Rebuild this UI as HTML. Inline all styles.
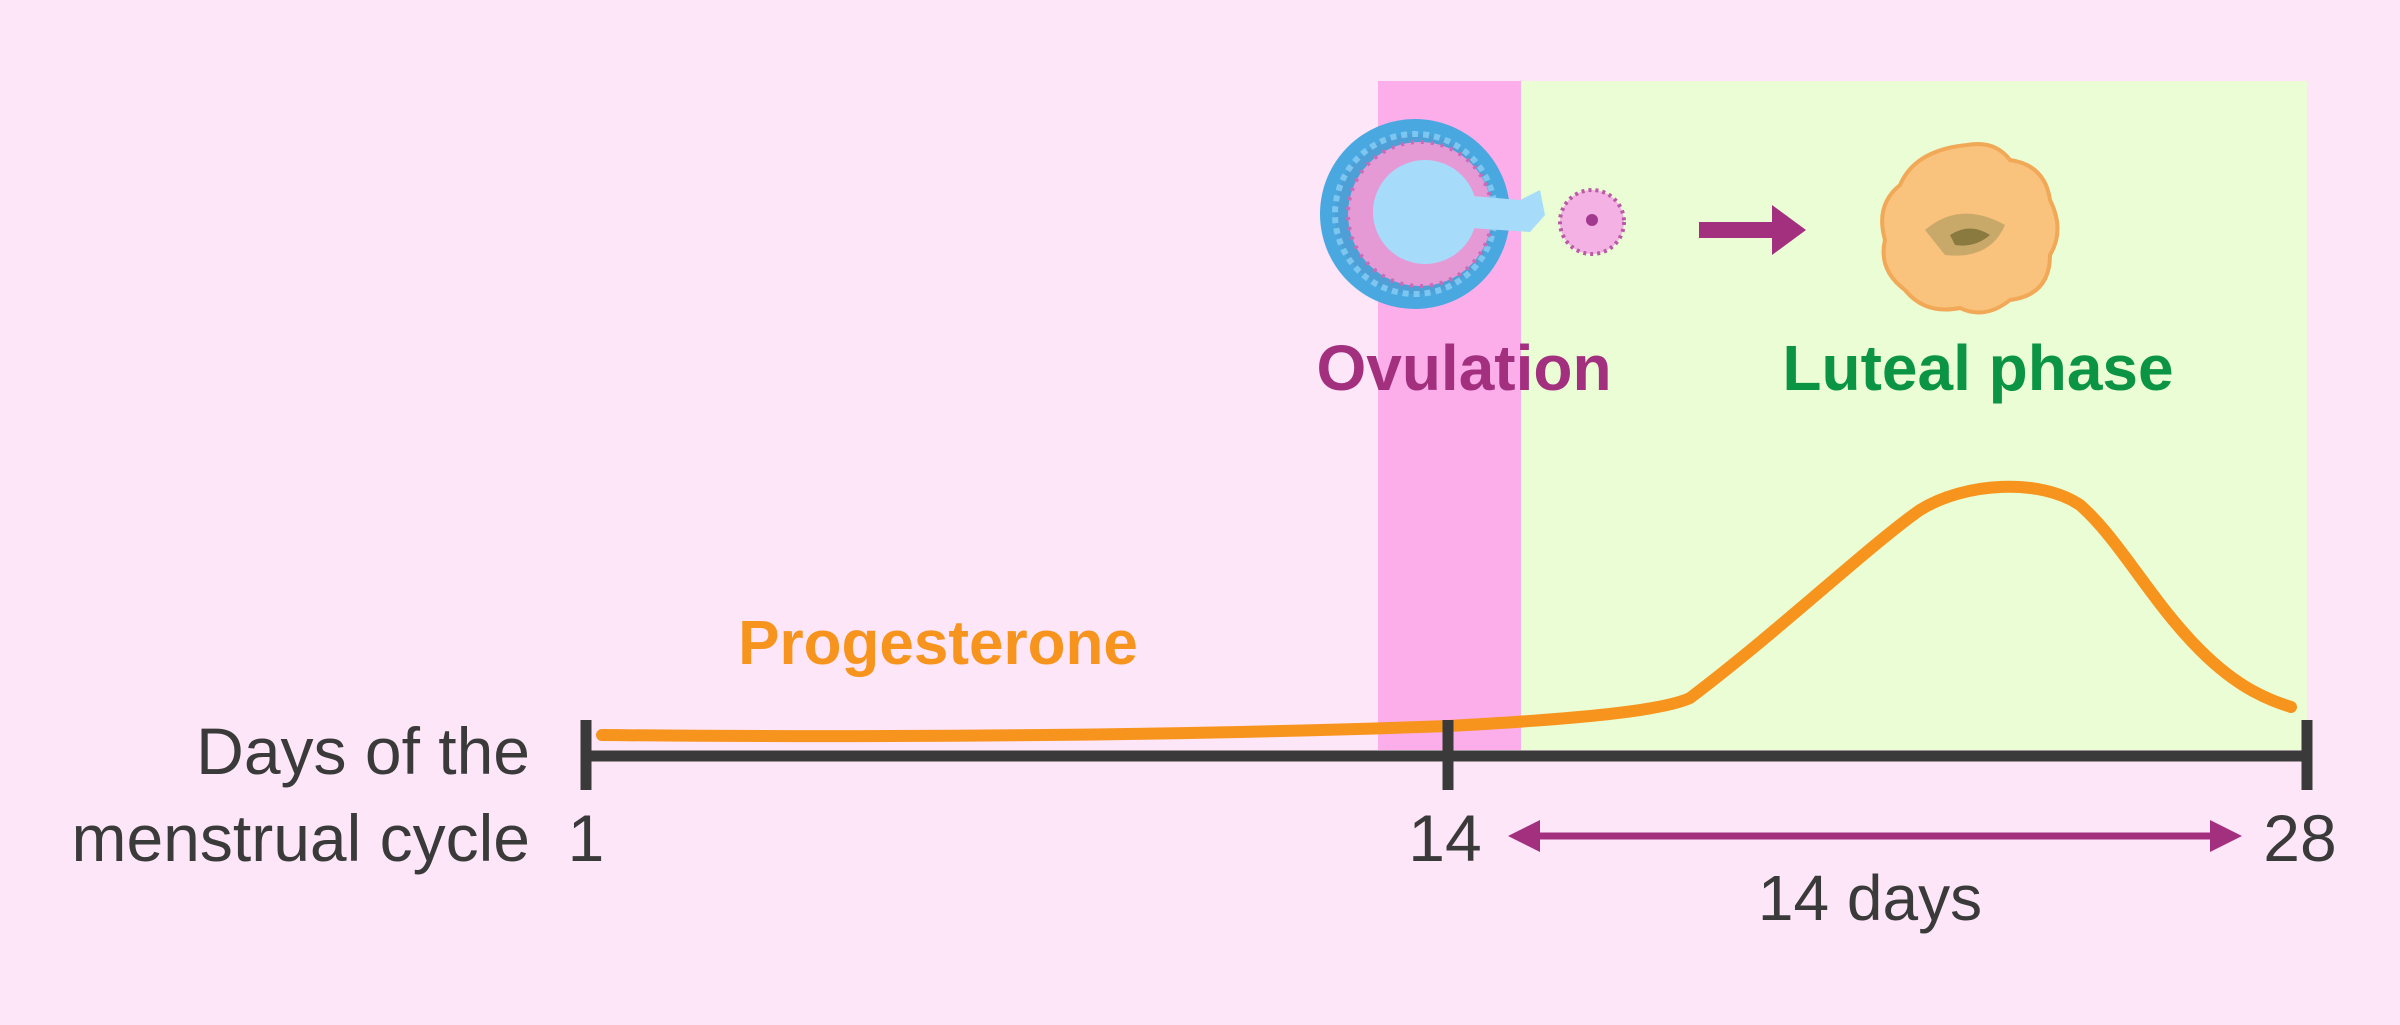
<!DOCTYPE html>
<html><head><meta charset="utf-8"><style>
html,body{margin:0;padding:0;}
body{width:2400px;height:1020px;background:#fde6f8;overflow:hidden;font-family:"Liberation Sans",sans-serif;}
</style></head><body>
<svg width="2400" height="1020" viewBox="0 0 2400 1020" xmlns="http://www.w3.org/2000/svg">
<rect x="0" y="0" width="2400" height="1020" fill="#fde6f8"/>
<rect x="1378" y="81" width="143" height="669" fill="#fcaeea"/>
<rect x="1521" y="81" width="786" height="669" fill="#eafdd5"/>

<g>
<circle cx="1415" cy="214" r="95" fill="#4aa8e0"/>
<circle cx="1415" cy="214" r="80" fill="#4d9fd6" stroke="#7dc6f0" stroke-width="6" stroke-dasharray="6 5"/>
<circle cx="1420" cy="214" r="72" fill="#e59ad5"/>
<circle cx="1420" cy="214" r="72" fill="none" stroke="#c96bb8" stroke-width="4" stroke-dasharray="3 7"/>
<circle cx="1425" cy="212" r="52" fill="#a6dcfa"/>
<path d="M1460 195 L1520 200 L1540 190 L1545 215 L1530 232 L1470 228 Z" fill="#a6dcfa"/>
<circle cx="1592" cy="222" r="32" fill="#f3b1e4" stroke="#b85aa6" stroke-width="4" stroke-dasharray="3 4"/>
<circle cx="1592" cy="220" r="6" fill="#a13a8f"/>
</g>
<rect x="1699" y="222" width="78" height="16" fill="#a2307f"/>
<polygon points="1772,205 1806,230 1772,255" fill="#a2307f"/>
<g>
<path d="M1967 145 Q1995 140 2010 160 Q2045 165 2050 200 Q2065 230 2050 255 Q2050 295 2010 300 Q1985 320 1960 308 Q1925 315 1905 290 Q1878 270 1885 240 Q1875 205 1900 185 Q1915 150 1967 145 Z" fill="#f9c27d" stroke="#f1a957" stroke-width="4"/>
<path d="M1925 230 Q1960 200 2005 225 Q1990 260 1945 255 Z" fill="#c9a96a"/>
<path d="M1950 235 Q1970 222 1990 235 Q1975 248 1955 245 Z" fill="#8a7a40"/>
</g>

<text x="1464" y="390" text-anchor="middle" font-size="64" font-weight="bold" fill="#a2307f">Ovulation</text>
<text x="1978" y="390" text-anchor="middle" font-size="64" font-weight="bold" fill="#0a9444">Luteal phase</text>
<text x="938" y="664" text-anchor="middle" font-size="62" font-weight="bold" fill="#f7941d">Progesterone</text>

<path d="M602 735 C900 738 1200 735 1448 726 C1560 720 1660 712 1690 698 C1780 630 1870 545 1920 510 C1965 482 2040 478 2080 505 C2120 540 2150 600 2200 650 C2240 690 2270 700 2291 707" fill="none" stroke="#f7941d" stroke-width="12" stroke-linecap="round"/>

<line x1="586" y1="756" x2="2307" y2="756" stroke="#3a3a3a" stroke-width="11"/>
<line x1="586" y1="720" x2="586" y2="790" stroke="#3a3a3a" stroke-width="11"/>
<line x1="1448" y1="720" x2="1448" y2="790" stroke="#3a3a3a" stroke-width="11"/>
<line x1="2307" y1="720" x2="2307" y2="790" stroke="#3a3a3a" stroke-width="11"/>

<text x="530" y="774" text-anchor="end" font-size="66" fill="#3a3a3a">Days of the</text>
<text x="530" y="861" text-anchor="end" font-size="66" fill="#3a3a3a">menstrual cycle</text>
<text x="586" y="861" text-anchor="middle" font-size="66" fill="#3a3a3a">1</text>
<text x="1445" y="861" text-anchor="middle" font-size="66" fill="#3a3a3a">14</text>
<text x="2300" y="861" text-anchor="middle" font-size="66" fill="#3a3a3a">28</text>

<line x1="1530" y1="836" x2="2220" y2="836" stroke="#a2307f" stroke-width="7"/>
<polygon points="1508,836 1540,820 1540,852" fill="#a2307f"/>
<polygon points="2242,836 2210,820 2210,852" fill="#a2307f"/>
<text x="1870" y="920" text-anchor="middle" font-size="64" fill="#3a3a3a">14 days</text>
</svg>
</body></html>
